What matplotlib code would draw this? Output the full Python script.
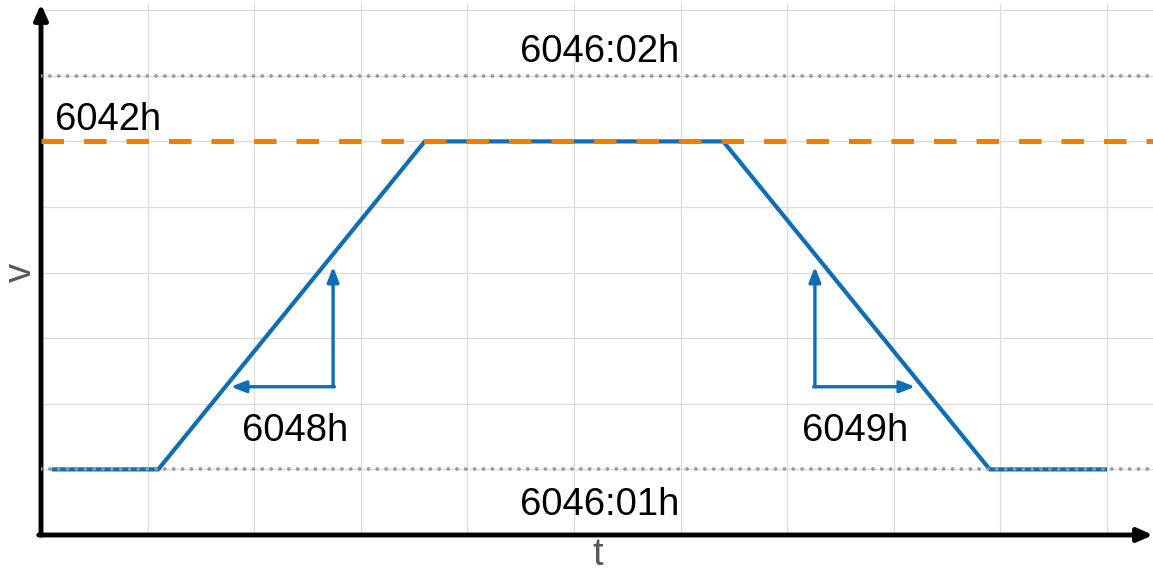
import matplotlib
matplotlib.use("Agg")
import matplotlib.pyplot as plt
import numpy as np

plt.rcParams['font.family'] = ['Liberation Sans', 'DejaVu Sans']

# profile data
profile_t = [0.1, 1.1, 3.6, 6.4, 8.9, 10.0]
profile_v = [1, 1, 6, 6, 1, 1]
v_max_profile = 6      # 6042h
v_max_limit = 7        # 6046:02h
v_min_limit = 1        # 6046:01h
grid_x = list(range(1, 11))
grid_y = list(range(1, 9))

BLUE = '#0f6db3'
ORANGE = '#f07f00'

fig = plt.figure(figsize=(11.53, 5.71), dpi=100)
ax = fig.add_axes([41/1153, 1 - 535/571, (1153-41)/1153, (535-4)/571])
ax.set_xlim(0, (1153-41)/106.6)
ax.set_ylim(0, (535-4)/65.6)

for gx in grid_x:
    ax.axvline(gx, color='#dcdcdc', lw=0.9, zorder=0)
for gy in grid_y:
    ax.axhline(gy, color='#dcdcdc', lw=0.9, zorder=0)

ax.plot(profile_t, profile_v, color=BLUE, lw=3, zorder=3, solid_capstyle='butt')
ax.axhline(v_max_profile, color=ORANGE, lw=3.6, dashes=(4.5, 4), zorder=4)
ax.axhline(v_max_limit, color='#999999', lw=2.7, dashes=(0.01, 2.35),
           dash_capstyle='round', zorder=4)
ax.axhline(v_min_limit, color='#999999', lw=2.7, dashes=(0.01, 2.35),
           dash_capstyle='round', zorder=4)

arrow_kw = dict(arrowstyle='-|>,head_length=0.9,head_width=0.35', color=BLUE, lw=2.4,
                shrinkA=0, shrinkB=0)
# 6048h
ax.annotate('', xy=(2.74, 4.09), xytext=(2.74, 2.26), arrowprops=arrow_kw, zorder=5)
ax.annotate('', xy=(1.78, 2.26), xytext=(2.74 + 0.012, 2.26), arrowprops=arrow_kw, zorder=5)
# 6049h
ax.annotate('', xy=(7.26, 4.09), xytext=(7.26, 2.26), arrowprops=arrow_kw, zorder=5)
ax.annotate('', xy=(8.2, 2.26), xytext=(7.26 - 0.012, 2.26), arrowprops=arrow_kw, zorder=5)

fs = 27.5
ax.text(5.24, 7.36, '6046:02h', fontsize=fs, ha='center', va='center')
ax.text(0.13, 6.33, '6042h', fontsize=fs, ha='left', va='center')
ax.text(2.38, 1.58, '6048h', fontsize=fs, ha='center', va='center')
ax.text(7.64, 1.58, '6049h', fontsize=fs, ha='center', va='center')
ax.text(5.24, 0.46, '6046:01h', fontsize=fs, ha='center', va='center')

for s in ['top', 'right', 'left', 'bottom']:
    ax.spines[s].set_visible(False)
ax.set_xticks([])
ax.set_yticks([])

# axes arrows
ax.annotate('', xy=(0, 1.0), xycoords='axes fraction', xytext=(0, 0),
            arrowprops=dict(arrowstyle='-|>,head_length=0.9,head_width=0.4',
                            color='black', lw=3.5, shrinkA=0, shrinkB=0))
ax.annotate('', xy=(1.0, 0), xycoords='axes fraction', xytext=(-0.002, 0),
            arrowprops=dict(arrowstyle='-|>,head_length=0.9,head_width=0.4',
                            color='black', lw=3.5, shrinkA=0, shrinkB=0))

fig.text(21/1153, 1 - 272/571, 'v', fontsize=fs, color='#595959', ha='center', va='center',
         rotation=90)
fig.text(598/1153, 1 - 565/571, 't', fontsize=fs, color='#595959', ha='center', va='baseline')

fig.savefig('out.png', dpi=100)
